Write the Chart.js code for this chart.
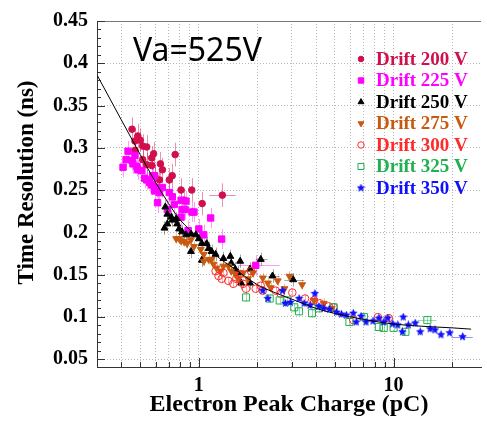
<!DOCTYPE html>
<html>
<head>
<meta charset="utf-8">
<script src="https://cdn.jsdelivr.net/npm/chart.js@4.4.1/dist/chart.umd.min.js"></script>
<style>
  html, body { margin: 0; padding: 0; background: #fff; }
</style>
</head>
<body>
<canvas id="chart" width="487" height="422"></canvas>
<script>
// Séries : [charge (pC), résolution (ns)]
const drift200 = [[0.454,0.322],[0.47,0.308],[0.486,0.314],[0.50,0.309],[0.515,0.302],[0.54,0.301],[0.47,0.297],[0.515,0.286],[0.573,0.288],[0.586,0.293],[0.54,0.280],[0.573,0.279],[0.635,0.281],[0.593,0.267],[0.65,0.274],[0.628,0.262],[0.705,0.262],[0.73,0.267],[0.756,0.292],[0.81,0.25],[0.84,0.238],[0.92,0.25],[1.04,0.234],[1.32,0.244]];
const drift225 = [[0.408,0.277],[0.423,0.286],[0.433,0.296],[0.454,0.285],[0.459,0.281],[0.47,0.291],[0.481,0.278],[0.486,0.274],[0.509,0.273],[0.527,0.264],[0.54,0.262],[0.559,0.259],[0.579,0.267],[0.593,0.267],[0.573,0.256],[0.607,0.253],[0.593,0.249],[0.628,0.247],[0.65,0.253],[0.705,0.247],[0.731,0.242],[0.614,0.235],[0.811,0.238],[0.859,0.237],[0.82,0.227],[0.944,0.224],[0.689,0.227],[0.748,0.233],[0.85,0.227],[0.811,0.218],[0.922,0.224],[1.0,0.204],[1.06,0.197],[0.88,0.202],[1.15,0.217],[1.31,0.192],[1.96,0.161]];
const drift250 = [[0.673,0.230],[0.689,0.2215],[0.722,0.218],[0.666,0.205],[0.689,0.210],[0.731,0.2145],[0.765,0.216],[0.774,0.210],[0.792,0.204],[0.82,0.2006],[0.859,0.197],[0.911,0.198],[0.966,0.197],[1.0,0.1925],[0.911,0.1774],[1.036,0.1867],[1.097,0.1867],[1.123,0.181],[1.036,0.167],[1.163,0.1774],[1.219,0.174],[1.337,0.169],[1.451,0.1716],[1.468,0.1635],[1.538,0.1565],[1.63,0.1658],[1.83,0.1565],[1.592,0.152],[1.83,0.140],[2.08,0.168],[2.39,0.1484],[3.05,0.144],[1.649,0.140]];
const drift275 = [[0.765,0.1925],[0.792,0.1925],[0.811,0.190],[0.840,0.189],[0.870,0.1867],[0.911,0.1913],[0.944,0.1832],[1.023,0.1797],[1.06,0.174],[1.06,0.1658],[1.123,0.168],[1.163,0.168],[1.19,0.1623],[1.233,0.1577],[1.292,0.1542],[1.337,0.160],[1.418,0.160],[1.468,0.1542],[1.538,0.1507],[1.592,0.145],[1.687,0.152],[1.789,0.145],[1.896,0.152],[2.13,0.146],[2.26,0.140],[2.34,0.1345],[2.54,0.1426],[2.75,0.1333],[2.92,0.148],[3.39,0.138],[3.90,0.1194],[4.38,0.116],[4.81,0.110]];
const drift300 = [[1.219,0.1542],[1.262,0.1484],[1.337,0.152],[1.31,0.145],[1.418,0.1426],[1.503,0.1391],[1.555,0.145],[1.63,0.1507],[1.687,0.1391],[1.747,0.1333],[1.852,0.1542],[1.96,0.1333],[2.08,0.1368],[2.13,0.131],[2.48,0.131],[2.63,0.1275],[3.02,0.1287],[3.51,0.1217],[3.90,0.1194],[4.18,0.116],[4.64,0.1124],[4.92,0.1113],[6.21,0.0962],[8.30,0.0997],[9.44,0.0985]];
const drift325 = [[1.747,0.123],[2.31,0.1217],[2.60,0.1194],[2.85,0.1194],[3.09,0.1113],[3.27,0.1066],[3.81,0.1043],[4.13,0.1101],[4.92,0.1113],[5.93,0.0939],[7.05,0.0997],[8.40,0.0881],[8.90,0.087],[10.0,0.087],[11.5,0.0823],[14.9,0.0962]];
const drift350 = [[2.13,0.131],[2.69,0.131],[2.26,0.1217],[2.78,0.116],[2.95,0.1171],[3.27,0.1217],[3.47,0.116],[3.72,0.1136],[3.94,0.1275],[4.13,0.1124],[4.38,0.1101],[4.69,0.109],[5.09,0.1055],[5.40,0.1032],[5.72,0.102],[6.21,0.1043],[6.43,0.0939],[6.81,0.1008],[7.22,0.0939],[7.83,0.095],[8.40,0.0985],[8.90,0.0939],[9.33,0.0985],[9.89,0.0916],[10.5,0.0904],[11.2,0.0997],[11.1,0.0823],[11.9,0.0904],[12.9,0.0927],[13.7,0.0823],[15.4,0.0858],[16.3,0.0846],[17.5,0.0788],[19.4,0.0811],[22.6,0.0765]];

// Courbe d'ajustement
const fitX = [0.302,0.4,0.5,0.6,0.7,0.8,1.0,1.25,1.5,2,2.5,3,4,5,7,10,15,20,25];
const fitY = [0.385,0.333,0.292,0.259,0.234,0.215,0.193,0.171,0.158,0.138,0.128,0.121,0.110,0.104,0.097,0.0915,0.0885,0.087,0.0855];

// Barres d'erreur : verticale par série, horizontales pour quelques points
const yErr = [0.014, 0.012, 0.008, 0.006, 0.005, 0.005, 0.004];
const xErrBars = [[0, 0.244, 1.13, 1.55], [1, 0.161, 1.59, 2.6], [2, 0.144, 2.75, 3.47], [2, 0.168, 1.96, 2.25], [2, 0.1484, 2.26, 2.6], [5, 0.0962, 13.3, 16.6], [6, 0.0765, 19.8, 25.5]];

const seriesNames = ['Drift 200 V', 'Drift 225 V', 'Drift 250 V', 'Drift 275 V', 'Drift 300 V', 'Drift 325 V', 'Drift 350 V'];
const seriesPoints = [drift200, drift225, drift250, drift275, drift300, drift325, drift350];

// Graduations
const xTickVals = [0.4,0.5,0.6,0.7,0.8,0.9,1,2,3,4,5,6,7,8,9,10,20];
const xLabelled = [1, 10];
const yTickVals = [0.05,0.1,0.15,0.2,0.25,0.3,0.35,0.4,0.45];
const yTickLabels = ['0.05','0.1','0.15','0.2','0.25','0.3','0.35','0.4','0.45'];

const colors = ['#d0104c', '#ff00ff', '#000000', '#c85a10', '#ff2a2a', '#20b050', '#1010ff'];
const errColors = ['rgba(208,16,76,0.45)', 'rgba(255,0,255,0.4)', 'rgba(0,0,0,0.35)', 'rgba(200,90,16,0.4)', 'rgba(255,42,42,0.4)', 'rgba(32,176,80,0.45)', 'rgba(16,16,255,0.45)'];

// Étoile pleine pour Drift 350 V
function makeStar(color, size) {
  const c = document.createElement('canvas');
  c.width = size; c.height = size;
  const g = c.getContext('2d');
  const r = size / 2, ri = r * 0.45;
  g.fillStyle = color;
  g.beginPath();
  for (let k = 0; k < 10; k++) {
    const a = -Math.PI / 2 + k * Math.PI / 5;
    const rr = k % 2 === 0 ? r : ri;
    g.lineTo(r + rr * Math.cos(a), r + rr * Math.sin(a));
  }
  g.closePath();
  g.fill();
  return c;
}
const star = makeStar('#1010ff', 9);

const markers = [
  { pointStyle: 'circle', radius: 3.3, rotation: 0, fill: true },
  { pointStyle: 'rect', radius: 4.5, rotation: 0, fill: true },
  { pointStyle: 'triangle', radius: 4, rotation: 0, fill: true },
  { pointStyle: 'triangle', radius: 4, rotation: 180, fill: true },
  { pointStyle: 'circle', radius: 3.8, rotation: 0, fill: false },
  { pointStyle: 'rect', radius: 5, rotation: 0, fill: false },
  { pointStyle: star, radius: 4.5, rotation: 0, fill: true }
];

const serif = "'Liberation Serif', 'Times New Roman', serif";

const datasets = [{
  type: 'line',
  label: 'fit',
  data: fitX.map((v, i) => ({ x: v, y: fitY[i] })),
  borderColor: '#000',
  borderWidth: 1,
  pointRadius: 0,
  cubicInterpolationMode: 'monotone',
  order: 0
}];
seriesPoints.forEach((pts, i) => {
  const m = markers[i];
  datasets.push({
    label: seriesNames[i],
    data: pts.map(p => ({ x: p[0], y: p[1] })),
    pointStyle: m.pointStyle,
    pointRadius: m.radius,
    rotation: m.rotation,
    backgroundColor: m.fill ? colors[i] : 'rgba(0,0,0,0)',
    borderColor: colors[i],
    borderWidth: 1,
    order: 7 - i
  });
});

const decorPlugin = {
  id: 'decor',
  beforeDatasetsDraw(chart) {
    const { ctx, scales: { x, y }, chartArea: a } = chart;
    ctx.save();
    ctx.beginPath();
    ctx.rect(a.left, a.top, a.right - a.left, a.bottom - a.top);
    ctx.clip();
    ctx.lineWidth = 1;
    seriesPoints.forEach((pts, i) => {
      ctx.strokeStyle = errColors[i];
      ctx.beginPath();
      pts.forEach(([qx, qy]) => {
        const px = Math.round(x.getPixelForValue(qx)) + 0.5;
        ctx.moveTo(px, y.getPixelForValue(qy - yErr[i]));
        ctx.lineTo(px, y.getPixelForValue(qy + yErr[i]));
      });
      ctx.stroke();
    });
    xErrBars.forEach(([i, qy, lo, hi]) => {
      const py = Math.round(y.getPixelForValue(qy)) + 0.5;
      ctx.strokeStyle = errColors[i];
      ctx.beginPath();
      ctx.moveTo(x.getPixelForValue(lo), py);
      ctx.lineTo(x.getPixelForValue(hi), py);
      ctx.stroke();
    });
    ctx.restore();
  },
  afterDraw(chart) {
    const { ctx, scales: { x, y }, chartArea: a } = chart;
    ctx.save();
    // cadre du haut
    ctx.strokeStyle = '#777';
    ctx.lineWidth = 1;
    ctx.beginPath();
    ctx.moveTo(a.left, a.top + 0.5);
    ctx.lineTo(a.right, a.top + 0.5);
    ctx.stroke();

    // petites graduations vers l'intérieur
    ctx.strokeStyle = '#333';
    ctx.beginPath();
    for (let k = 5; k <= 45; k++) {
      const py = Math.round(y.getPixelForValue(k / 100)) + 0.5;
      const len = k % 5 === 0 ? 8 : 4;
      ctx.moveTo(a.left, py);
      ctx.lineTo(a.left + len, py);
    }
    xTickVals.forEach(v => {
      const px = Math.round(x.getPixelForValue(v)) + 0.5;
      const len = xLabelled.includes(v) ? 9 : 5;
      ctx.moveTo(px, a.bottom);
      ctx.lineTo(px, a.bottom - len);
    });
    ctx.stroke();

    // légende
    const lx = 361, ly = 59, step = 21.5;
    ctx.font = 'bold 19px ' + serif;
    ctx.textBaseline = 'middle';
    ctx.textAlign = 'left';
    seriesNames.forEach((name, i) => {
      const m = markers[i];
      const cy = ly + i * step;
      ctx.fillStyle = m.fill ? colors[i] : 'rgba(0,0,0,0)';
      ctx.strokeStyle = colors[i];
      ctx.lineWidth = 1;
      Chart.helpers.drawPoint(ctx, { pointStyle: m.pointStyle, radius: m.radius * 0.85, rotation: m.rotation, borderWidth: 1 }, lx, cy);
      ctx.fillStyle = colors[i];
      ctx.fillText(name, lx + 15, cy + 1);
    });

    // annotation
    ctx.fillStyle = '#000';
    ctx.font = "32px 'Noto Sans', sans-serif";
    ctx.textBaseline = 'alphabetic';
    ctx.fillText('Va=525V', 133, 61);
    ctx.restore();
  }
};

new Chart(document.getElementById('chart'), {
  type: 'scatter',
  data: { datasets },
  options: {
    responsive: false,
    animation: false,
    layout: { padding: { top: 15, right: 0, left: 0, bottom: 0 } },
    plugins: { legend: { display: false }, tooltip: { enabled: false } },
    scales: {
      x: {
        type: 'logarithmic',
        min: 0.302,
        max: 28.1,
        afterBuildTicks: (scale) => { scale.ticks = xTickVals.map(v => ({ value: v })); },
        afterFit: (scale) => { scale.height = 55; },
        grid: { color: '#b8b8b8', lineWidth: 1, drawTicks: false },
        border: { display: true, color: '#333', width: 1, dash: [1, 2] },
        ticks: {
          autoSkip: false,
          maxRotation: 0,
          padding: 7,
          color: '#000',
          font: { family: serif, size: 20, weight: 'bold' },
          callback: (value) => xLabelled.includes(value) ? String(value) : ''
        },
        title: {
          display: true,
          text: 'Electron Peak Charge (pC)',
          color: '#000',
          font: { family: serif, size: 24, weight: 'bold' },
          padding: { top: 0, bottom: 3 }
        }
      },
      y: {
        min: 0.0407,
        max: 0.45,
        afterBuildTicks: (scale) => { scale.ticks = yTickVals.map(v => ({ value: v })); },
        afterFit: (scale) => { scale.width = 97; },
        grid: { color: '#b8b8b8', lineWidth: 1, drawTicks: false },
        border: { display: true, color: '#333', width: 1, dash: [1, 2] },
        ticks: {
          autoSkip: false,
          padding: 9,
          color: '#000',
          font: { family: serif, size: 20, weight: 'bold' },
          callback: (value, index) => yTickLabels[index]
        },
        title: {
          display: true,
          text: '    Time Resolution (ns)',
          color: '#000',
          font: { family: serif, size: 23, weight: 'bold' },
          padding: { top: 13, bottom: 0 }
        }
      }
    }
  },
  plugins: [decorPlugin]
});
</script>
</body>
</html>
